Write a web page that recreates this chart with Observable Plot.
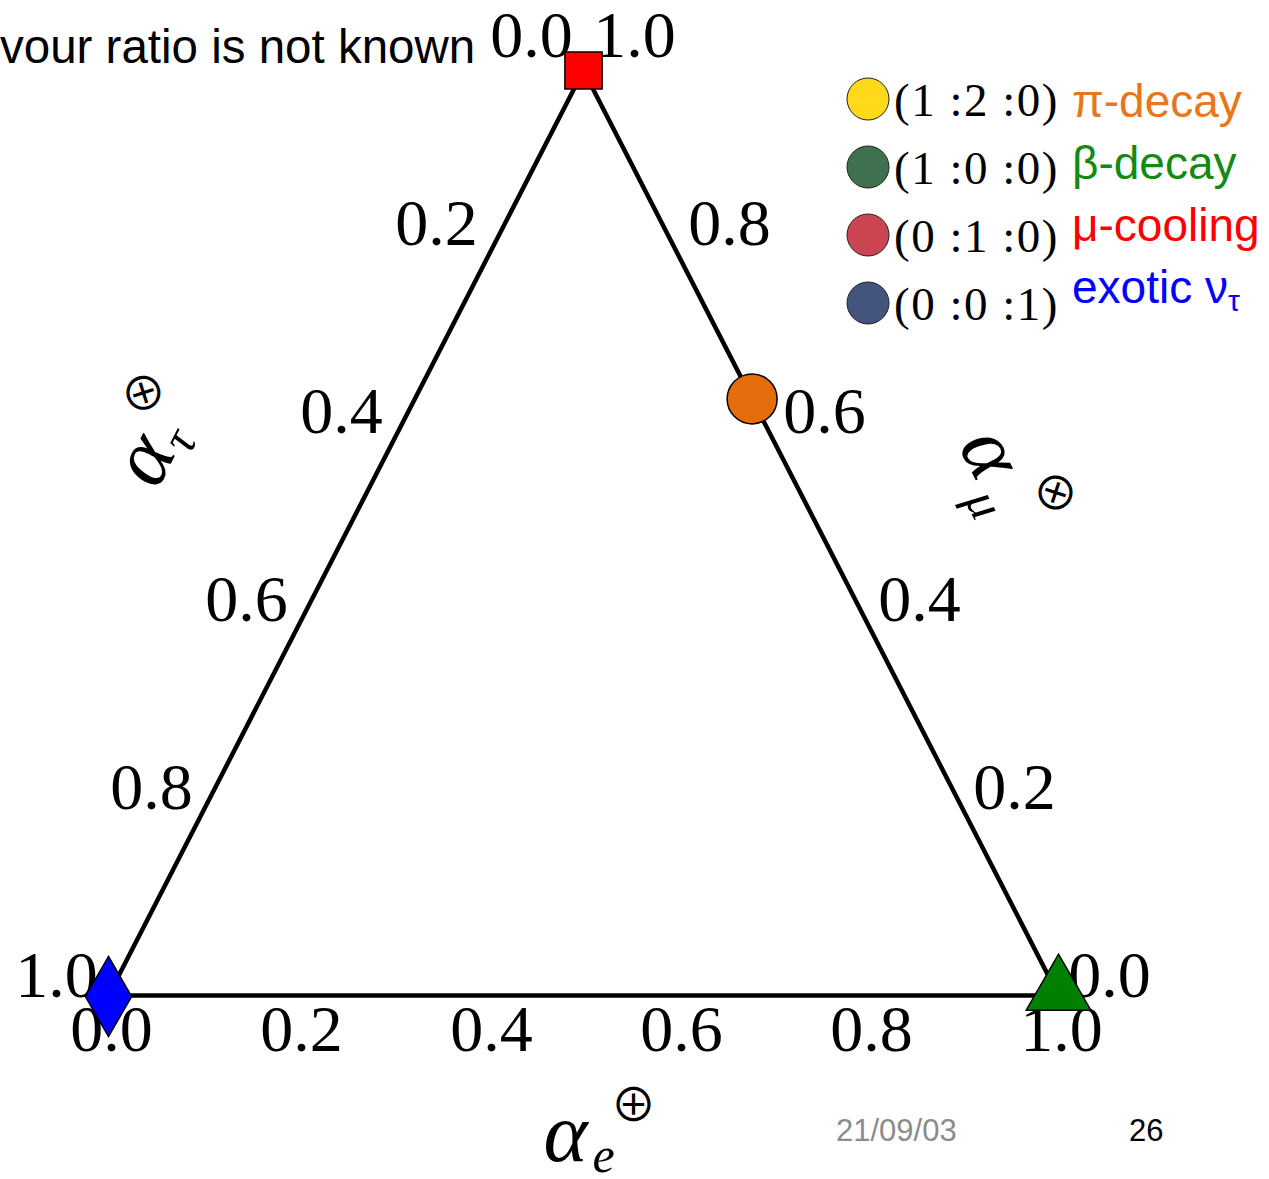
<!DOCTYPE html>
<html>
<head>
<meta charset="utf-8">
<script src="https://cdn.jsdelivr.net/npm/d3@7"></script>
<script src="https://cdn.jsdelivr.net/npm/@observablehq/plot@0.6"></script>
<style>
  html, body { margin: 0; padding: 0; background: #fff; }
  #page { position: relative; width: 1269px; height: 1179px; overflow: hidden; }
  #page > svg { position: absolute; left: 0; top: 0; }
</style>
</head>
<body>
<div id="page"></div>
<script>
// Tick values shared by the three edges of the flavour triangle
const ticks = [0, 0.2, 0.4, 0.6, 0.8, 1.0];
const tickLabels = ["0.0", "0.2", "0.4", "0.6", "0.8", "1.0"];

// Source points as flavour fractions at Earth (e, mu, tau)
const sourceNames = ["pi-decay", "beta-decay", "mu-cooling", "exotic"];
const sourceE   = [0.355, 1, 0, 0];
const sourceMu  = [0.645, 0, 1, 0];
const sourceTau = [0,     0, 0, 1];
const sourceSymbols = ["circle", "triangle", "square", "diamond"];
const sourceFills = ["#e46c0a", "#008000", "#ff0000", "#0000ff"];

// Legend rows
const legendRatios = ["(1 :2 :0)", "(1 :0 :0)", "(0 :1 :0)", "(0 :0 :1)"];
const legendLabels = ["π-decay", "β-decay", "μ-cooling", "exotic ν|τ"];
const legendDotColors = ["#ffd91a", "#3f7150", "#cc4552", "#43557d"];
const legendTextColors = ["#e8761a", "#138a13", "#ff0000", "#0000ff"];

// Page text
const headline = "vour ratio is not known";
const dateText = "21/09/03";
const pageNumber = "26";

// (e, mu, tau) -> plane coordinates of the triangle
const tx = (e, mu) => e + mu / 2;
const ty = (e, mu) => mu;

const sources = sourceNames.map((name, i) => ({
  name, e: sourceE[i], mu: sourceMu[i], tau: sourceTau[i],
  symbol: sourceSymbols[i], fill: sourceFills[i]
}));

// Closed outline through the three pure-flavour corners
const outline = [[0, 0], [1, 0], [0, 1], [0, 0]].map(([e, mu]) => ({e, mu}));

const serif = "'Liberation Serif', 'DejaVu Serif', serif";
const symbolFont = "'Noto Sans CJK JP', 'DejaVu Sans', sans-serif";
const sans = "'Liberation Sans', Arial, sans-serif";

// An axis title: alpha, subscript flavour and superscript marker, laid out along a rotated baseline
function axisTitle(anchor, ox, oy, angle, sub, sup, parts) {
  const a = angle * Math.PI / 180, c = Math.cos(a), s = Math.sin(a);
  const place = (along, down) => [ox + along * c - down * s, oy + along * s + down * c];
  const pieces = [
    {text: "α", at: [0, 0], size: 84, style: "italic", family: serif},
    {text: sub, at: parts.sub, size: 50, style: "italic", family: serif},
    {text: sup, at: parts.sup, size: 46, style: "normal", family: symbolFont}
  ];
  return pieces.map(p => {
    const [dx, dy] = place(p.at[0], p.at[1]);
    return Plot.text([anchor], {
      x: d => tx(d.e, d.mu), y: d => ty(d.e, d.mu), text: () => p.text,
      dx, dy, rotate: angle, textAnchor: "middle", lineAnchor: "middle",
      fontSize: p.size, fontStyle: p.style, fontFamily: p.family, fill: "black"
    });
  });
}

const tickStyle = {fontSize: 66, fontFamily: serif, fill: "black", textAnchor: "middle", lineAnchor: "middle"};

const marks = [
  Plot.line(outline, {x: d => tx(d.e, d.mu), y: d => ty(d.e, d.mu), stroke: "black", strokeWidth: 4.5, strokeLinejoin: "miter"})
];

// Tick labels: alpha_e below the base, alpha_tau left of the left edge, alpha_mu right of the right edge
ticks.forEach((v, i) => {
  const label = tickLabels[i];
  marks.push(
    Plot.text([{e: v, mu: 0}], {x: d => tx(d.e, d.mu), y: d => ty(d.e, d.mu), text: () => label, dx: 3, dy: 34, ...tickStyle}),
    Plot.text([{e: 0, mu: 1 - v}], {x: d => tx(d.e, d.mu), y: d => ty(d.e, d.mu), text: () => label, dx: -52, dy: -35 + 15 * v, ...tickStyle}),
    Plot.text([{e: 1 - v, mu: v}], {x: d => tx(d.e, d.mu), y: d => ty(d.e, d.mu), text: () => label, dx: 51, dy: -20 - 15 * v, ...tickStyle})
  );
});

marks.push(
  ...axisTitle({e: 0.5, mu: 0}, -18, 139, 0, "e", "⊕", {sub: [38, 21], sup: [68, -28]}),
  ...axisTitle({e: 0, mu: 0.5}, -203, -74, -63, "τ", "⊗", {sub: [33, 24], sup: [59, -27]}),
  ...axisTitle({e: 0.5, mu: 0.5}, 171, -80, 63, "μ", "⊗", {sub: [42, 30], sup: [64, -36]})
);

// Source markers, sized per symbol
const markerRadius = {circle: 25, triangle: 24, square: 21, diamond: 24.3};
const markerShift = {circle: 0, triangle: -4, square: 0, diamond: 1};
for (const s of sources) {
  marks.push(Plot.dot([s], {
    x: d => tx(d.e, d.mu), y: d => ty(d.e, d.mu),
    symbol: s.symbol, r: markerRadius[s.symbol], dy: markerShift[s.symbol],
    fill: s.fill, stroke: "black", strokeWidth: 1.5
  }));
}

const chart = Plot.plot({
  width: 1269,
  height: 1179,
  margin: 0,
  x: {domain: [0, 1], range: [108, 1058], axis: null},
  y: {domain: [0, 1], range: [995, 70], axis: null},
  style: {background: "transparent", overflow: "visible"},
  marks
});

const page = document.getElementById("page");
page.appendChild(chart);

// Headline, legend and footer drawn on top
const overlay = d3.select(page).append("svg")
  .attr("width", 1269).attr("height", 1179)
  .style("pointer-events", "none");

overlay.append("text")
  .attr("x", 0).attr("y", 63)
  .attr("font-family", sans)
  .attr("font-size", 47.5)
  .text(headline);

const rows = overlay.append("g").selectAll("g")
  .data(legendRatios.map((r, i) => ({
    ratio: r, label: legendLabels[i], dot: legendDotColors[i], color: legendTextColors[i], i
  })))
  .join("g");

rows.append("circle")
  .attr("cx", 868).attr("cy", d => 99 + 68 * d.i).attr("r", 21)
  .attr("fill", d => d.dot).attr("stroke", "#222").attr("stroke-width", 1);

rows.append("text")
  .attr("x", 894).attr("y", d => 116 + 68 * d.i)
  .attr("font-family", serif).attr("font-size", 47)
  .attr("letter-spacing", 1.5)
  .text(d => d.ratio);

rows.append("text")
  .attr("x", 1072).attr("y", d => 117 + 62 * d.i)
  .attr("font-family", sans).attr("font-size", 46)
  .attr("fill", d => d.color)
  .each(function(d) {
    const [main, sub] = d.label.split("|");
    const t = d3.select(this);
    t.append("tspan").text(main);
    if (sub) t.append("tspan").attr("font-size", 30).attr("dy", 8).text(sub);
  });

overlay.append("text")
  .attr("x", 836).attr("y", 1141)
  .attr("font-family", sans).attr("font-size", 31)
  .attr("fill", "#8c8c8c")
  .text(dateText);

overlay.append("text")
  .attr("x", 1129).attr("y", 1141)
  .attr("font-family", sans).attr("font-size", 31)
  .attr("fill", "black")
  .text(pageNumber);
</script>
</body>
</html>
